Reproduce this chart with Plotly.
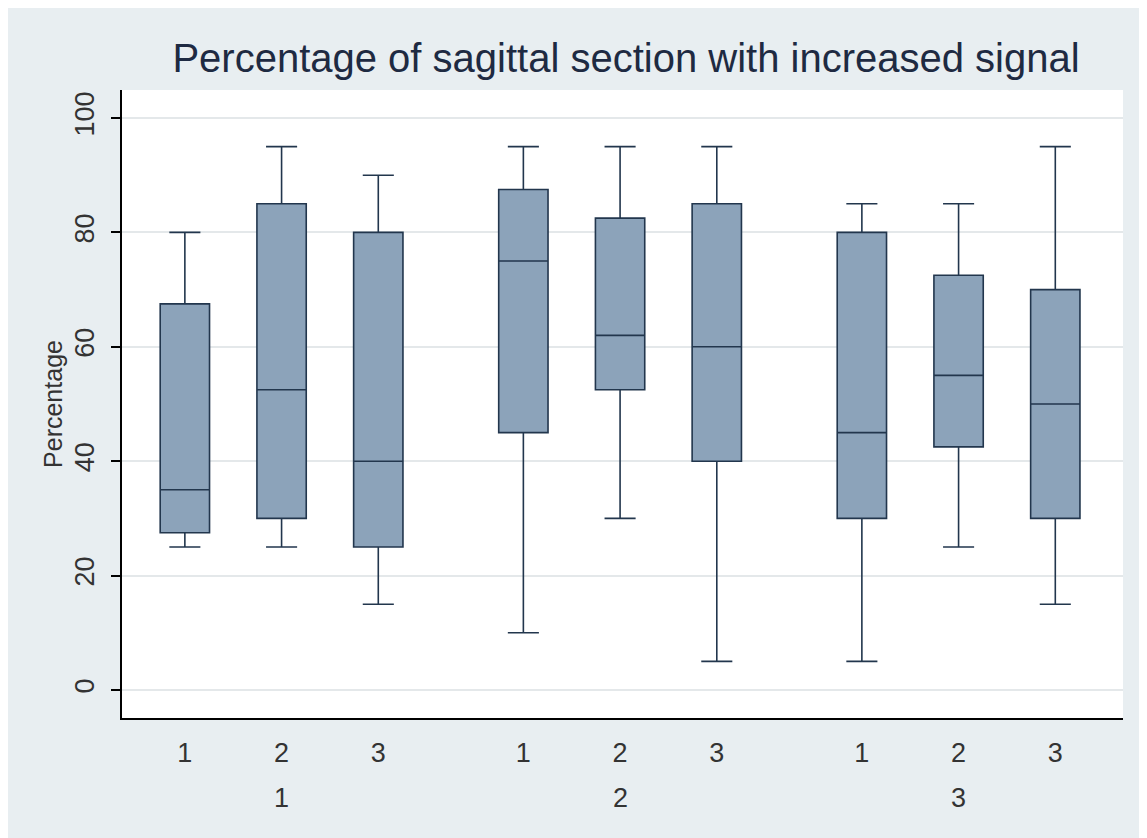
import plotly.graph_objects as go

# Data
groups = ["1", "2", "3"]
x_pos = [1, 2, 3, 4.5, 5.5, 6.5, 8, 9, 10]
tick_labels = ["1", "2", "3", "1", "2", "3", "1", "2", "3"]
group_pos = [2, 5.5, 9]
lower = [25, 25, 15, 10, 30, 5, 5, 25, 15]
q1 = [27.5, 30, 25, 45, 52.5, 40, 30, 42.5, 30]
median = [35, 52.5, 40, 75, 62, 60, 45, 55, 50]
q3 = [67.5, 85, 80, 87.5, 82.5, 85, 80, 72.5, 70]
upper = [80, 95, 90, 95, 95, 95, 85, 85, 95]
y_ticks = [0, 20, 40, 60, 80, 100]

PAPER = "#e8eef1"
FONT = "Liberation Sans, Arial, sans-serif"
TXT = "#333333"

fig = go.Figure()
fig.add_trace(go.Box(
    x=x_pos, q1=q1, median=median, q3=q3,
    lowerfence=lower, upperfence=upper,
    width=0.51, whiskerwidth=0.63,
    fillcolor="#8ca3ba",
    line=dict(color="#22364d", width=1.6),
    boxpoints=False, hoverinfo="skip", showlegend=False,
))

for gx, g in zip(group_pos, groups):
    fig.add_annotation(x=gx, y=-0.127, xref="x", yref="paper", text=g,
                       showarrow=False, font=dict(size=27, color=TXT, family=FONT),
                       yanchor="middle")

fig.update_layout(
    width=1147, height=838,
    margin=dict(l=114, r=32, t=82, b=128),
    paper_bgcolor=PAPER, plot_bgcolor="white",
    title=dict(text="Percentage of sagittal section with increased signal",
               x=618 / 1147, xanchor="center", y=1 - 50 / 838, yanchor="middle",
               font=dict(size=40, color="#1e2a42", family=FONT)),
    font=dict(family=FONT, color=TXT),
)
fig.update_xaxes(
    range=[0.35, 10.70], tickmode="array", tickvals=x_pos, ticktext=tick_labels,
    ticks="", showgrid=False, zeroline=False,
    showline=True, linecolor="black", linewidth=2,
    tickfont=dict(size=27, color=TXT), ticklabelstandoff=10,
)
fig.update_yaxes(
    range=[-4.9, 104.9], tickmode="array", tickvals=y_ticks,
    tickangle=-90, ticks="outside", ticklen=9, tickwidth=1.5, tickcolor="black",
    showgrid=True, gridcolor="#e4e8ea", gridwidth=1.5, zeroline=False,
    showline=True, linecolor="black", linewidth=2,
    tickfont=dict(size=27, color=TXT), ticklabelstandoff=6,
    title=dict(text="Percentage", font=dict(size=25, color=TXT), standoff=0),
)

fig.write_html("out.html")
